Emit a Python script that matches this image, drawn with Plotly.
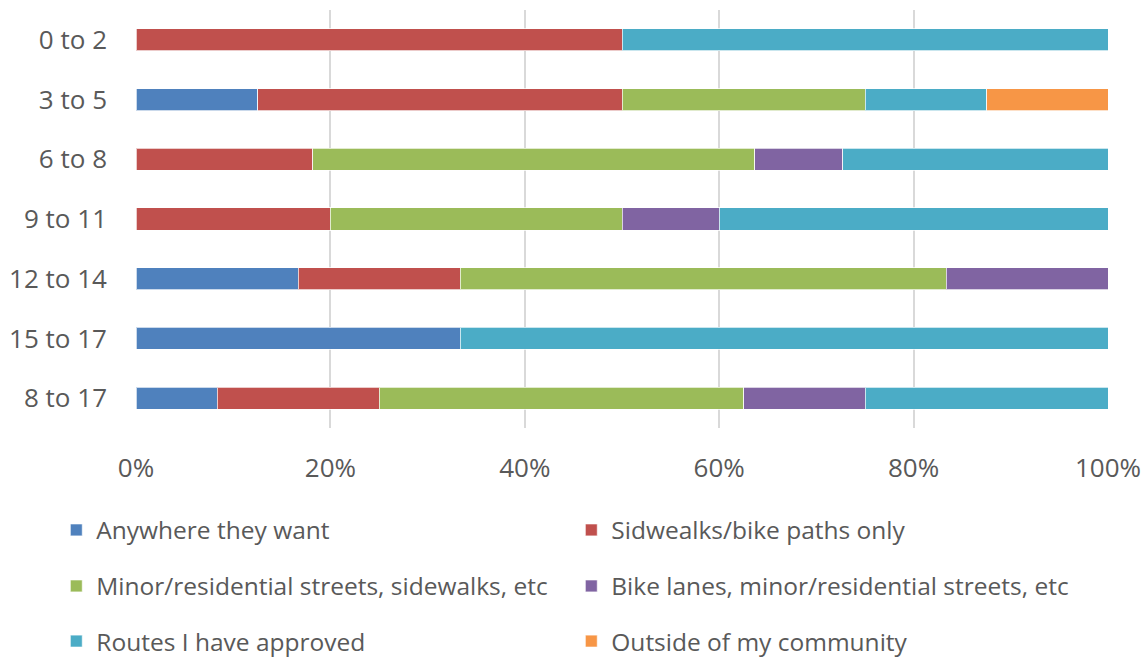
import plotly.graph_objects as go

# Age groups (top to bottom) and the number of answers in each category
age_groups = ["0 to 2", "3 to 5", "6 to 8", "9 to 11", "12 to 14", "15 to 17", "8 to 17"]

anywhere = [0, 1, 0, 0, 1, 1, 2]
sidewalks = [1, 3, 2, 2, 1, 0, 4]
minor_streets = [0, 2, 5, 3, 3, 0, 9]
bike_lanes = [0, 0, 1, 1, 1, 0, 3]
approved_routes = [1, 1, 3, 4, 0, 2, 6]
outside_community = [0, 1, 0, 0, 0, 0, 0]

x_ticks = [0, 20, 40, 60, 80, 100]
x_tick_labels = [f"{v}%" for v in x_ticks]

series = [
    ("Anywhere they want", anywhere, "#4F81BD", "legend"),
    ("Sidwealks/bike paths only", sidewalks, "#C0504D", "legend"),
    ("Minor/residential streets, sidewalks, etc", minor_streets, "#9BBB59", "legend2"),
    ("Bike lanes, minor/residential streets, etc", bike_lanes, "#8064A2", "legend2"),
    ("Routes I have approved", approved_routes, "#4BACC6", "legend3"),
    ("Outside of my community", outside_community, "#F79646", "legend3"),
]

FONT = "Open Sans"
SIZE = 26
LEGEND_SIZE = 24.5
TEXT = "#595959"

fig = go.Figure()
for name, vals, color, leg in series:
    fig.add_trace(go.Bar(
        name=name,
        y=age_groups,
        x=vals,
        orientation="h",
        marker=dict(color=color, line=dict(color="rgba(255,255,255,0.7)", width=1)),
        legend=leg,
    ))

# Three one-row legends laid out as a two-column grid under the chart
legend_common = dict(
    orientation="h",
    xanchor="left",
    yanchor="middle",
    x=-0.082,
    entrywidth=470,
    entrywidthmode="pixels",
    font=dict(family=FONT, size=LEGEND_SIZE, color=TEXT),
    bgcolor="rgba(0,0,0,0)",
    traceorder="normal",
)

fig.update_layout(
    width=1146,
    height=660,
    margin=dict(l=136, r=38, t=10, b=232, autoexpand=False),
    paper_bgcolor="white",
    plot_bgcolor="white",
    barmode="stack",
    barnorm="percent",
    bargap=0.63,
    font=dict(family=FONT, size=SIZE, color=TEXT),
    legend=dict(legend_common, y=-0.244),
    legend2=dict(legend_common, y=-0.378),
    legend3=dict(legend_common, y=-0.510),
    xaxis=dict(
        range=[0, 100],
        tickmode="array",
        tickvals=x_ticks,
        ticktext=x_tick_labels,
        showgrid=True,
        gridcolor="#D9D9D9",
        gridwidth=2,
        zeroline=False,
        showline=False,
        ticks="",
        ticklabelstandoff=22,
        tickfont=dict(family=FONT, size=SIZE, color=TEXT),
    ),
    yaxis=dict(
        autorange="reversed",
        showgrid=False,
        zeroline=False,
        showline=False,
        ticks="",
        ticklabelstandoff=28,
        tickfont=dict(family=FONT, size=SIZE, color=TEXT),
    ),
)

fig.write_html("out.html")
